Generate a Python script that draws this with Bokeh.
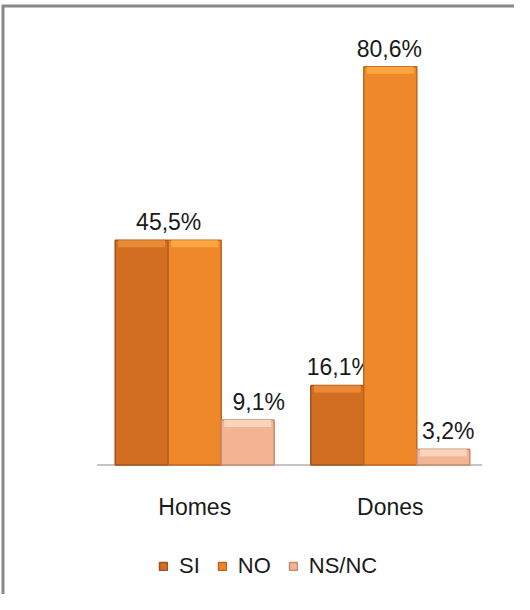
from bokeh.plotting import figure
from bokeh.models import ColumnDataSource, Range1d, Legend, LegendItem
from bokeh.transform import dodge
from bokeh.embed import file_html
from bokeh.resources import INLINE
from bokeh.core.properties import value

# ---- data ----
categories = ["Homes", "Dones"]
series = ["SI", "NO", "NS/NC"]
si = [45.5, 16.1]
no = [45.5, 80.6]
nsnc = [9.1, 3.2]
si_labels = ["45,5%", "16,1%"]
no_labels = ["", "80,6%"]
nsnc_labels = ["9,1%", "3,2%"]

# ---- label nudges (screen px, styling only) ----
si_nudge = [27, 2]
no_nudge = [0, -1]
nsnc_nudge = [11, 5]

# ---- layout constants ----
W, H = 514, 594
PX_X = 195.6   # pixels per category
PX_Y = 4.94    # pixels per percentage point
X0 = 194.2     # pixel x of first category centre
Y0 = 464.5     # pixel y of baseline
BW = 53 / PX_X
BEVEL = 7 / PX_Y
FONT = "Liberation Sans"

# fill, outline, top highlight
colors = {"SI": ("#D26E22", "#A0521A", "#E98B34"),
          "NO": ("#EE8828", "#BE661C", "#FBA640"),
          "NS/NC": ("#F3B493", "#C98A6C", "#FAD3BC")}

src = ColumnDataSource(dict(
    x=list(range(len(categories))), cat=categories,
    si=si, no=no, nsnc=nsnc,
    si_b=[v - BEVEL for v in si], no_b=[v - BEVEL for v in no],
    nsnc_b=[v - BEVEL for v in nsnc],
    si_lab=si_labels, no_lab=no_labels, nsnc_lab=nsnc_labels,
    si_dx=si_nudge, no_dx=no_nudge, nsnc_dx=nsnc_nudge,
))

p = figure(width=W, height=H, output_backend="svg", toolbar_location=None,
           x_range=Range1d(-X0 / PX_X, (W - X0) / PX_X),
           y_range=Range1d(-(H - Y0) / PX_Y, Y0 / PX_Y),
           x_axis_type=None, y_axis_type=None, min_border=0)
p.outline_line_color = None
p.background_fill_color = "white"
p.border_fill_color = "white"

# frame border (decoration) in pixel space
p.extra_x_ranges = {"px": Range1d(0, W)}
p.extra_y_ranges = {"px": Range1d(H, 0)}
p.line(x=[2.5, 2.5, W], y=[H, 5.5, 5.5], x_range_name="px", y_range_name="px",
       line_color="#888888", line_width=3, line_join="miter")

# axis baseline
p.segment(x0=-0.5, y0=0, x1=len(categories) - 0.53, y1=0,
          line_color="#8c8c8c", line_width=1.2)

renderers = []
for key, name, off in [("si", "SI", -BW), ("no", "NO", 0), ("nsnc", "NS/NC", BW)]:
    fc, lc, hc = colors[name]
    r = p.vbar(x=dodge("x", off, range=p.x_range), top=key, bottom=0, width=BW,
               source=src, fill_color=fc, line_color=lc, line_width=1.5)
    renderers.append((name, r))
    # top bevel highlight
    p.vbar(x=dodge("x", off, range=p.x_range), top=key, bottom=key + "_b",
           width=BW - 6 / PX_X, source=src, fill_color=hc, line_color=None)
    p.text(x=dodge("x", off, range=p.x_range), y=key, text=key + "_lab", source=src,
           x_offset=key + "_dx", y_offset=-18, text_align="center",
           text_baseline="alphabetic", text_font=value(FONT),
           text_font_size="23px", text_color="#1a1a1a")

# category labels
p.text(x="x", y=0, text="cat", source=src, y_offset=42, text_align="center",
       text_baseline="alphabetic", text_font=value(FONT), text_font_size="23px",
       text_color="#1a1a1a")

legend = Legend(items=[LegendItem(label=n, renderers=[r]) for n, r in renderers],
                orientation="horizontal", location=(158, 15),
                padding=0, margin=0, border_line_color=None,
                background_fill_alpha=0, glyph_width=10, glyph_height=10,
                label_height=10, label_standoff=11, spacing=17,
                label_text_font=FONT, label_text_font_size="22px",
                label_text_color="#1a1a1a")
p.add_layout(legend)

open("out.html", "w").write(file_html(p, INLINE))
